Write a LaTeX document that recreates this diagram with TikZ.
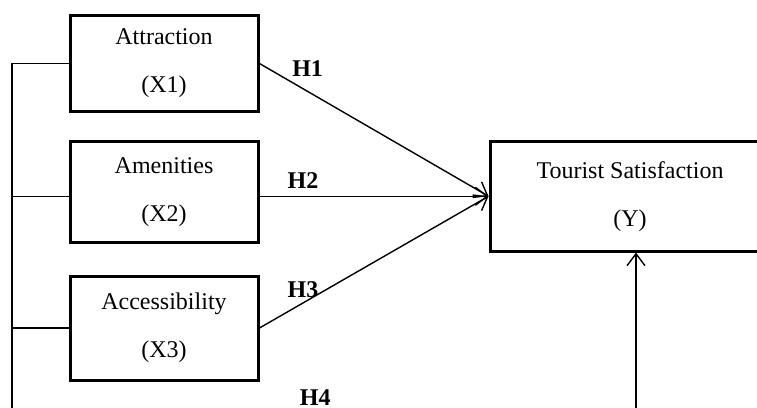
\documentclass[tikz,border=0pt]{standalone}
\usepackage{fontspec}
\setmainfont{Liberation Serif}
\usetikzlibrary{arrows.meta}
\tikzset{
    construct/.style={draw, line width=1.5pt, minimum width=94pt, align=center, inner sep=0pt, font=\fontsize{12}{24}\selectfont}, % boxes for the variables
    link/.style={line width=0.7pt}, % thin connecting lines
    hyp/.style={font=\bfseries\fontsize{12}{14}\selectfont}, % hypothesis labels
    >={Straight Barb[length=6pt,width=9pt]}, % open arrow heads
}
\begin{document}
\begin{tikzpicture}[x=0.5pt, y=-0.5pt]
    \clip (0,0) rectangle (757,408);
    \node[construct, minimum height=48pt] (x1) at (164,63.5) {Attraction\\(X1)};
    \node[construct, minimum height=50.75pt] (x2) at (164,191.75) {Amenities\\(X2)};
    \node[construct, minimum height=52pt] (x3) at (164,328) {Accessibility\\(X3)};
    \node[construct, minimum width=140pt, minimum height=54.75pt] (y) at (630,196.25) {Tourist Satisfaction\\(Y)};
    \coordinate (rail) at (12,418);
    \coordinate (foot) at (636,418);
    \draw[link]
    (x1.east) edge[->] node[hyp, pos=0.21, above=4pt] {H1} (y.west)
    (x2.east |- y.west) edge[->] node[hyp, pos=0.19, above] {H2} (y.west)
    (x3.east) edge[->] node[hyp, pos=0.19, above=-1pt] {H3} (y.west);
    \draw[link] (x1.west) -| (rail) -- node[hyp, pos=0.486, above=2.5pt] {H4} (foot);
    \draw[link] (x2.west |- y.west) -- (rail |- y.west);
    \draw[link] (x3.west) -- (x3.west -| rail);
    \draw[link, ->] (foot) -- (foot |- y.south);
\end{tikzpicture}
\end{document}
